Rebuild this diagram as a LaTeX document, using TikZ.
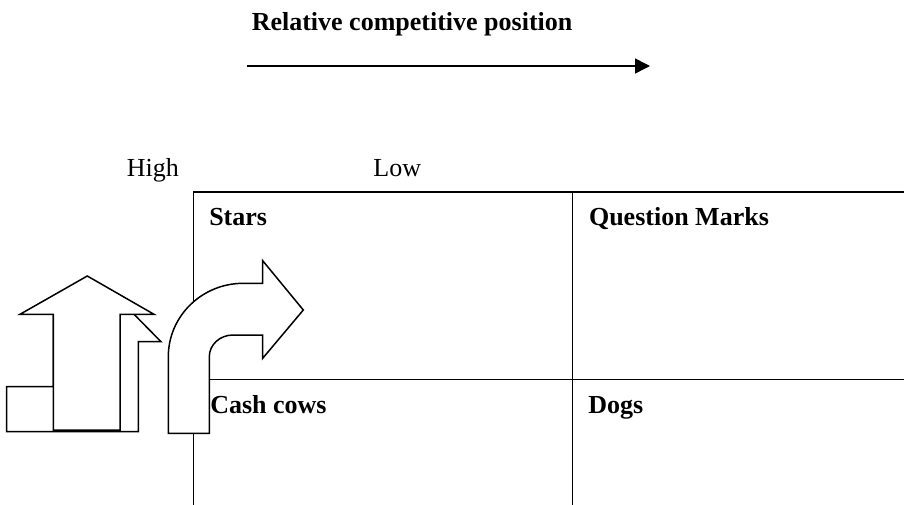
\documentclass[tikz,border=0pt]{standalone}
\usepackage{fontspec}
\setmainfont{Liberation Serif}
\usetikzlibrary{arrows.meta}
\begin{document}
\begin{tikzpicture}[x=1pt,y=-1pt, line width=1.5pt, line join=miter,
  lbl/.style={inner sep=0pt, anchor=base west, font=\fontsize{26}{30}\selectfont},
  blbl/.style={inner sep=0pt, anchor=base west, font=\fontsize{26}{30}\selectfont\bfseries},
  arrowshape/.style={draw, fill=white}]
\useasboundingbox (0,0) rectangle (904,505);
% grid
\draw (193.3,192) -- (904,192);
\draw (193.3,192) -- (193.3,505);
\draw (572.3,192) -- (572.3,505);
\draw (193.3,379.3) -- (904,379.3);
% title and axis arrow
\node[blbl] (title) at (251,31) {Relative competitive position};
\coordinate (as) at (246.5,66);
\coordinate (ae) at (650,66);
\draw[-{Triangle[length=15pt,width=15pt]}] (as) -- (ae);
\node[lbl] (high) at (126,177) {High};
\node[lbl] (low) at (372.7,177) {Low};
% up arrow (back)
\draw[arrowshape] (6.7,386.7) -- (6.7,431.7) -- (138.3,431.7) -- (138.3,341.7) -- (161,341.7) -- (120,300) -- (53.3,300) -- (53.3,386.7) -- cycle;
% up arrow (front)
\draw[arrowshape] (87.3,276) -- (154,314.3) -- (120,314.3) -- (120,430) -- (53.3,430) -- (53.3,314.3) -- (20,314.3) -- cycle;
% curved arrow
\draw[arrowshape] (168.3,433.3) -- (168.3,356.7) .. controls (168.3,316.2) and (201.9,283.3) .. (243.3,283.3) -- (262.7,283.3) -- (262.7,260.7) -- (303.3,310) -- (262.7,358.3) -- (262.7,335) -- (233,335) .. controls (219.9,335) and (209.3,344.7) .. (209.3,356.7) -- (209.3,433.3) -- cycle;
% quadrant labels
\node[blbl] (stars) at (208.5,225) {Stars};
\node[blbl] (qm) at (588.3,225) {Question Marks};
\node[blbl] (cash) at (209.5,413) {Cash cows};
\node[blbl] (dogs) at (587.7,413) {Dogs};
\end{tikzpicture}
\end{document}
